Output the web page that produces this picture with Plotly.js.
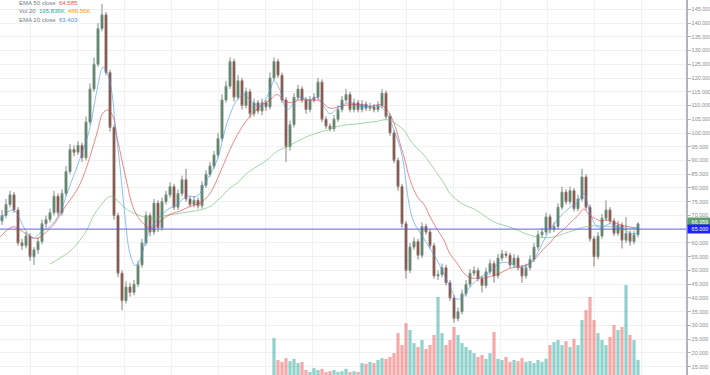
<!DOCTYPE html>
<html>
<head>
<meta charset="utf-8">
<script src="https://cdn.plot.ly/plotly-3.0.1.min.js"></script>
<style>html,body{margin:0;padding:0;background:#fff;overflow:hidden}#chart{width:710px;height:375px}</style>
</head>
<body>
<div id="chart"></div>
<script>
// ---- candle data (bar index 0..159) ----
const openP = [68,70,74,77.5,72,60,59,62.5,55,57.5,
 60.5,67,68.5,71,77,71,78,86,94,93,
 95.5,91,104,116,125,138,143,122,102,70,
 49,39,44,42,45,52,60,70,64,74.5,
 65.5,75,77.5,80.5,73,78,83,76,74,75.5,
 73.5,81,85,88,92,98,112,117,126,113,
 119,110,115,107,111,108,111,109.5,120,126,
 121,112,95,103,113,116,112,108.5,112,113,
 118.5,105,102.5,101.5,105,108.5,112,114,108.5,111,
 108.5,110.5,109,109.5,108.5,110,114.5,106,100,90,
 80.5,67,50,58.5,60.5,55.5,66,64,59,48,
 48.5,51,45.5,40,32.5,35,41.5,45,49,50,
 47,44.5,49.5,52.5,48,54.5,56,55.5,52,54.5,
 51,48,51,54,58.5,63,64,69.5,65,66,
 73,78.5,75,79,72.5,76,84,73,61.5,55,
 62.5,69,72,68,63.5,66.5,61,63.5,60.5,63];
const highP = [72,76,79,78.5,73,61.5,64,63.5,58.5,62,
 68.5,70,72.5,79,78,79.5,88,96,95.5,97,
 96.5,106,118,127.5,140,147,144,123,103,71,
 50,46,45.5,46.5,53.5,61.5,71.5,71,76,75.5,
 76.5,79,82,81.5,79.5,84.5,87,77,77,76.5,
 82.5,86.5,89.5,93.5,100,114,119,127.5,127,121,
 120,116.5,116,112.5,112,112.5,112,122,127.5,127,
 122,113,104.5,114.5,117.5,117,113,113.5,114.5,120,
 119.5,106,103.5,106.5,110,113.5,116,115,112.5,112,
 112,111.5,111,110.5,111.5,116,115.5,107,101,91,
 81.5,68,60,62,61.5,67.5,67,65,60,50,
 52.5,52,46.5,41,36.5,43,46.5,50.5,51.5,51,
 48,51,54,53.5,56,57.5,57,56.5,56,55.5,
 52,52.5,55.5,60,64.5,65.5,71,70.5,67.5,74.5,
 80.5,79.5,80.5,80,77.5,87,85,74,62.5,64,
 70.5,75.5,73,69,68,67.5,69.5,64.5,64.5,67.5];
const lowP = [66.5,69,73,71,59,57.5,58,53.5,52,56,
 59.5,65.5,67.5,70,70,70,77,85,91.5,92,
 89.5,90,103,115,124,137,121,100.5,68.5,47.5,
 35.5,38,40.5,41,44,51,59,62.5,63,64,
 64.5,74,76.5,72,72,77,75,73,73,72.5,
 72.5,80,84,87,91,97,111,116,111.5,112,
 108.5,109,105.5,106,107,106.5,108,108.5,119,120,
 111,89.5,93.5,102,112,111,107,107.5,111,112,
 104,101.5,100.5,100.5,104,107.5,111,107.5,107.5,107.5,
 107.5,108,108,107.5,107.5,109,105,99,89,79,
 65.5,47,49,57.5,54,54.5,63,58,47,46.5,
 47.5,44.5,39,31,31.5,34,40.5,44,48,46,
 42,43.5,48.5,45.5,47,53.5,54.5,51,51,50,
 45.5,47,50,53,57.5,62,63,63.5,64,65,
 72,74,74,71.5,71.5,75,72,60.5,51.5,54,
 61.5,68,67,62.5,62.5,58,60,59,59.5,62];
const closeP = [70,74,77.5,72,60,59,62.5,55,57.5,60.5,
 67,68.5,71,77,71,78,86,94,93,95.5,
 91,104,116,125,138,143,122,102,70,49,
 39,44,42,45,52,60,70,64,74.5,65.5,
 75,77.5,80.5,73,78,83,76,74,75.5,73.5,
 81,85,88,92,98,112,117,126,113,119,
 110,115,107,111,108,111,109.5,120,126,121,
 112,95,103,113,116,112,108.5,112,113,118.5,
 105,102.5,101.5,105,108.5,112,114,108.5,111,108.5,
 110.5,109,109.5,108.5,110,114.5,106,100,90,80.5,
 67,50,58.5,60.5,55.5,66,64,59,48,48.5,
 51,45.5,40,32.5,35,41.5,45,49,50,47,
 44.5,49.5,52.5,48,54.5,56,55.5,52,54.5,51,
 48,51,54,58.5,63,64,69.5,65,66,73,
 78.5,75,79,72.5,76,84,73,61.5,55,62.5,
 69,72,68,63.5,66.5,61,63.5,60.5,63,66.96];

// volume in thousands, first bar with volume is index 68
const volStart = 68;
const volumeK = [480,195,
 170,220,180,210,155,170,65,40,90,65,
 80,40,50,65,40,50,80,40,50,40,
 155,145,170,155,195,220,210,235,285,545,
 390,675,585,415,365,455,340,390,520,1015,
 545,390,455,625,520,415,365,325,285,235,
 260,210,285,560,210,195,235,170,195,180,
 220,170,180,155,195,170,210,390,430,455,
 390,440,365,470,390,715,845,1015,715,545,
 455,390,495,650,585,625,1170,520,455,196];

// EMA lines (bar index, value)
const ema20X = [-0.5,2.75,5.75,7.75,9.5,12,14.5,16.25,18.75,20.25,22,23.75,25.25,26.25,27.5,28.25,29.5,30.75,32,33.25,34.5,35.75,37,38.75,41.25,43.75,46.25,48.75,51.25,53.75,56.25,58.75,60.5,62,64.5,67,68,69.5,71.25,73,74.5,77,78.75,80.5,82,84.5,87,89.5,92,94.5,96.25,98,99.5,100.5,101.25,102.75,105.25,108.75,112,113.75,115.25,117,119.5,122,124.5,127,129.5,132,133.75,135.5,137,138.75,140.5,142,143.75,145.5,147,148.75,150.5,152,153.75,155.5,157,159];
const ema20Y = [68.5,72,65,61.6,63.7,66,71,78,87.7,93.7,102,115.6,124,122,114.5,103.6,87.7,69.5,56,51.8,53.8,60,65,68.4,72,74,77,77,83,90,103.6,112,114,112,109.7,115.6,119,115.6,108.4,111,113,112,113,109.7,107,109.7,111,109.7,109.7,109.7,107,101,95,88,79,68.3,62,53.8,44,39.5,40.5,44,47.5,49.5,52.7,52.7,51,52.7,56,61,65,68.4,71,73,74.5,78,71,66,66,67,66,65,63.6,63.4];
const ema50X = [-0.5,2.75,4.5,7,8.75,10.75,13.25,15.25,17,18.75,20.25,22,23.75,25.25,26.5,27.75,28.75,30,31.25,32.75,34.5,36.25,37.75,39.5,42,44.5,47,49.5,52,54.5,57,59.5,62,64.5,67,68.75,70.5,72,74.5,77,79.5,82,84.5,87,89.5,92,94.5,96.25,98,99.5,100.5,102,103.75,105.5,107,108.75,110.5,112,113.75,115.5,117,119.5,122,124.5,127,129.5,132,133.75,135.5,137,138.75,140.5,142,143.75,145.5,147,149.75,151.25,153.75,156.25,159];
const ema50Y = [62.2,65.9,64.8,62.4,61.7,63.6,67.3,72,75.6,79.3,84,91.4,100,107.3,108.4,106,98.6,90,81.7,73,68.4,66,65.4,67.8,70.4,71.6,73.3,74.5,78,85.5,94,101,106,109.7,112,114,112,111,112,112,111.6,109,109.7,110.3,110.3,109.7,110.3,108.4,103.6,96.3,91.4,83,77,74,69.6,65,61,56,52.7,49,47.4,47.2,47.7,49,50.8,51.4,52.6,55,58,60,63,65,67.3,69.6,72.3,70,68,68.4,67,66,65.4];
const ema200X = [12,14.5,17,19.5,21.25,22.75,24.5,26.25,27.5,28.75,30.25,32,33.75,35.25,37,39.5,42,44.5,47,49.5,52,54.5,57,58.75,61.25,63.75,66.25,68.75,71.25,73.75,76.25,78.75,81.25,83.75,86.25,88.75,91.25,93.75,95.5,97,98.75,100.5,102,103.75,105.5,107,108.75,110.5,112,113.75,115.5,118,120.5,123,125.5,128,130.5,133,135.5,138,140.5,143,145.5,148,150.5,153,155.5,159];
const ema200Y = [52.3,54.5,57,61,64.8,69.6,73.3,76.3,77,75.6,73.3,71.5,70.3,69.6,69,69.6,70.2,70.8,71.4,72,73.3,76.3,80,81.7,85.4,87.8,90.2,93.3,95,96.9,98.7,100,101,102.3,103,103.3,103.8,104.2,104.8,104.6,103,101,97.5,94.5,92,89,85.4,81.7,78,75.6,73.8,72.4,70,67.6,66.4,65.2,63.6,62.4,61.9,62.2,63.4,64.6,65.8,66.2,66.2,65.8,65.5,65.2];

const levelLine = 65;
const lastClose = 66.956;
const ema20Last = "63.403";
const ema50Last = "64.585";
const volLast = "195.836K";
const volMaLast = "466.56K";

// ---- build traces ----
const idx = closeP.map((_, i) => i);
const volX = volumeK.map((_, i) => volStart + i);
const volColors = volumeK.map((_, i) => {
  const k = volStart + i;
  return closeP[k] >= openP[k] ? 'rgba(38,166,154,0.5)' : 'rgba(239,83,80,0.5)';
});

const traces = [
  {type: 'bar', x: volX, y: volumeK, yaxis: 'y2', marker: {color: volColors, line: {width: 0}},
   width: 0.8, hoverinfo: 'skip'},
  {type: 'scatter', mode: 'lines', x: ema200X, y: ema200Y, line: {color: 'rgba(102,187,106,0.6)', width: 1, shape: 'spline'}, hoverinfo: 'skip'},
  {type: 'scatter', mode: 'lines', x: ema50X, y: ema50Y, line: {color: 'rgba(229,57,53,0.6)', width: 1, shape: 'spline'}, hoverinfo: 'skip'},
  {type: 'scatter', mode: 'lines', x: ema20X, y: ema20Y, line: {color: 'rgba(66,150,243,0.6)', width: 1, shape: 'spline'}, hoverinfo: 'skip'},
  {type: 'candlestick', x: idx, open: openP, high: highP, low: lowP, close: closeP,
   increasing: {line: {color: '#7f8f84', width: 1}, fillcolor: '#3f7f4f'},
   decreasing: {line: {color: '#8f7a76', width: 1}, fillcolor: '#8b3526'},
   whiskerwidth: 0, hoverinfo: 'skip'}
];

const legendFont = {family: 'Liberation Sans, Arial, sans-serif', size: 6, color: '#787b86'};
const layout = {
  width: 710, height: 375,
  margin: {l: 0, r: 24, t: 0, b: 0},
  paper_bgcolor: '#ffffff', plot_bgcolor: '#ffffff',
  showlegend: false,
  xaxis: {range: [-0.5, 171], showticklabels: false, ticks: '', tick0: 7, dtick: 11.75,
          showgrid: true, gridcolor: '#f0f1f4', gridwidth: 1, zeroline: false, showline: false,
          rangeslider: {visible: false}, fixedrange: true},
  yaxis: {side: 'right', range: [11.97, 148.38], tick0: 0, dtick: 5, tickformat: '.3f',
          showgrid: true, gridcolor: '#f0f1f4', gridwidth: 1, zeroline: false,
          ticks: 'outside', ticklen: 3, tickcolor: '#b2b5be', tickwidth: 1,
          showline: true, linecolor: '#b2b5be', linewidth: 1.5,
          tickfont: {family: 'Liberation Sans, Arial, sans-serif', size: 5.5, color: '#8a8d96'}, fixedrange: true},
  yaxis2: {overlaying: 'y', range: [0, 4875], visible: false, fixedrange: true},
  shapes: [
    {type: 'line', xref: 'paper', x0: 0, x1: 1, yref: 'y', y0: levelLine, y1: levelLine,
     line: {color: 'rgba(80,80,255,0.7)', width: 1.2}}
  ],
  annotations: [
    {xref: 'paper', yref: 'paper', x: 0.0243, y: 1 - 3.2/375, xanchor: 'left', yanchor: 'middle', showarrow: false,
     font: legendFont, text: 'EMA 50 close  <span style="color:#ef5350">' + ema50Last + '</span>'},
    {xref: 'paper', yref: 'paper', x: 0.0243, y: 1 - 11.2/375, xanchor: 'left', yanchor: 'middle', showarrow: false,
     font: legendFont, text: 'Vol 20  <span style="color:#26a69a">' + volLast + '</span>  <span style="color:#ff9800">' + volMaLast + '</span>'},
    {xref: 'paper', yref: 'paper', x: 0.0243, y: 1 - 19.5/375, xanchor: 'left', yanchor: 'middle', showarrow: false,
     font: legendFont, text: 'EMA 20 close  <span style="color:#4a90e2">' + ema20Last + '</span>'},
    {xref: 'paper', yref: 'y', x: 1, y: lastClose + 0.7, xanchor: 'left', yanchor: 'middle', showarrow: false,
     bgcolor: '#5f9e6e', borderpad: 1, xshift: 1, width: 22,
     font: {family: 'Liberation Sans, Arial, sans-serif', size: 5.5, color: '#ffffff'}, text: lastClose.toFixed(3)},
    {xref: 'paper', yref: 'y', x: 1, y: levelLine, xanchor: 'left', yanchor: 'middle', showarrow: false,
     bgcolor: '#1e22ff', borderpad: 1, xshift: 1, width: 22,
     font: {family: 'Liberation Sans, Arial, sans-serif', size: 5.5, color: '#ffffff'}, text: levelLine.toFixed(3)}
  ]
};

Plotly.newPlot('chart', traces, layout, {staticPlot: true, displayModeBar: false});
</script>
</body>
</html>
